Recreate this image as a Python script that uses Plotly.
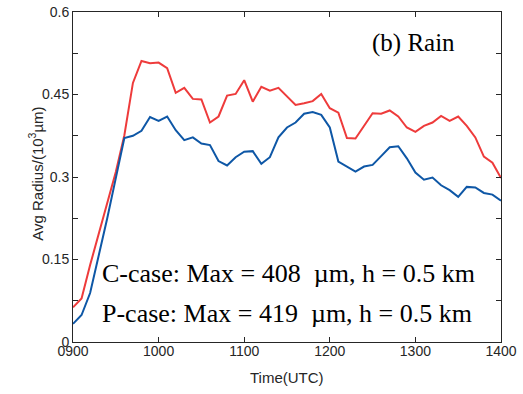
import plotly.graph_objects as go

# time in minutes after 0900 UTC, 6-minute output interval
minutes = list(range(0, 301, 6))

red_vals = [0.063, 0.079, 0.140, 0.196, 0.253, 0.309, 0.376, 0.471, 0.511, 0.507,
            0.508, 0.498, 0.453, 0.462, 0.442, 0.441, 0.399, 0.410, 0.448, 0.451,
            0.476, 0.437, 0.464, 0.457, 0.462, 0.447, 0.431, 0.434, 0.438, 0.451,
            0.425, 0.417, 0.371, 0.370, 0.393, 0.416, 0.415, 0.421, 0.410, 0.390,
            0.382, 0.393, 0.399, 0.411, 0.402, 0.410, 0.393, 0.372, 0.337, 0.326,
            0.298]

blue_vals = [0.033, 0.049, 0.089, 0.155, 0.225, 0.298, 0.371, 0.375, 0.384, 0.409,
             0.402, 0.410, 0.385, 0.367, 0.372, 0.361, 0.358, 0.329, 0.321, 0.336,
             0.346, 0.347, 0.324, 0.336, 0.372, 0.390, 0.399, 0.415, 0.418, 0.413,
             0.390, 0.328, 0.319, 0.310, 0.319, 0.322, 0.338, 0.354, 0.356, 0.334,
             0.308, 0.295, 0.299, 0.285, 0.276, 0.264, 0.282, 0.281, 0.271, 0.268,
             0.257]

x_tickvals = [0, 60, 120, 180, 240, 300]
x_ticktext = ["0900", "1000", "1100", "1200", "1300", "1400"]
y_tickvals = [0, 0.075, 0.15, 0.225, 0.3, 0.375, 0.45, 0.525, 0.6]
y_ticktext = ["0", "", "0.15", "", "0.3", "", "0.45", "", "0.6"]

AX = "#262626"
SANS = "Arial, Liberation Sans, sans-serif"
SERIF = "Times New Roman, Liberation Serif, serif"

fig = go.Figure()
fig.add_trace(go.Scatter(x=minutes, y=red_vals, mode="lines",
                         line=dict(color="#EE3B3B", width=2), showlegend=False))
fig.add_trace(go.Scatter(x=minutes, y=blue_vals, mode="lines",
                         line=dict(color="#0E57A6", width=2), showlegend=False))

fig.update_layout(
    width=523, height=394,
    margin=dict(l=73, r=22, t=12, b=52, autoexpand=False),
    paper_bgcolor="white", plot_bgcolor="white",
    font=dict(family=SANS, size=14, color=AX),
    xaxis=dict(range=[0, 300], tickvals=x_tickvals, ticktext=x_ticktext,
               ticks="inside", ticklen=5, tickcolor=AX, showline=True,
               linecolor=AX, linewidth=1, mirror="ticks", showgrid=False,
               zeroline=False, tickfont=dict(size=14, color=AX),
               automargin=False, ticklabelstandoff=-4),
    yaxis=dict(range=[0, 0.6], tickvals=y_tickvals, ticktext=y_ticktext,
               ticks="inside", ticklen=5, tickcolor=AX, showline=True,
               linecolor=AX, linewidth=1, mirror="ticks", showgrid=False,
               zeroline=False, tickfont=dict(size=14, color=AX),
               automargin=False),
)

# axis titles
fig.add_annotation(xref="paper", yref="paper", x=0.5, y=-0.109,
                   xanchor="center", yanchor="middle", showarrow=False,
                   text="Time(UTC)", font=dict(family=SANS, size=15, color=AX))
fig.add_annotation(xref="paper", yref="paper", x=-0.0864, y=0.51,
                   xanchor="center", yanchor="middle", showarrow=False, textangle=-90,
                   text="Avg Radius/(10<sup>3</sup>µm)",
                   font=dict(family=SANS, size=15, color=AX))

fig.add_annotation(xref="paper", yref="paper", x=0.6935, y=0.905,
                   xanchor="left", yanchor="middle", showarrow=False,
                   text="(b) Rain", font=dict(family=SERIF, size=25, color="black"))
fig.add_annotation(xref="paper", yref="paper", x=0.064, y=0.207,
                   xanchor="left", yanchor="middle", showarrow=False,
                   text="C-case: Max = 408 \u00a0µm, h = 0.5 km",
                   font=dict(family=SERIF, size=26, color="black"))
fig.add_annotation(xref="paper", yref="paper", x=0.064, y=0.085,
                   xanchor="left", yanchor="middle", showarrow=False,
                   text="P-case: Max = 419 \u00a0µm, h = 0.5 km",
                   font=dict(family=SERIF, size=26, color="black"))

fig.write_html("out.html")
